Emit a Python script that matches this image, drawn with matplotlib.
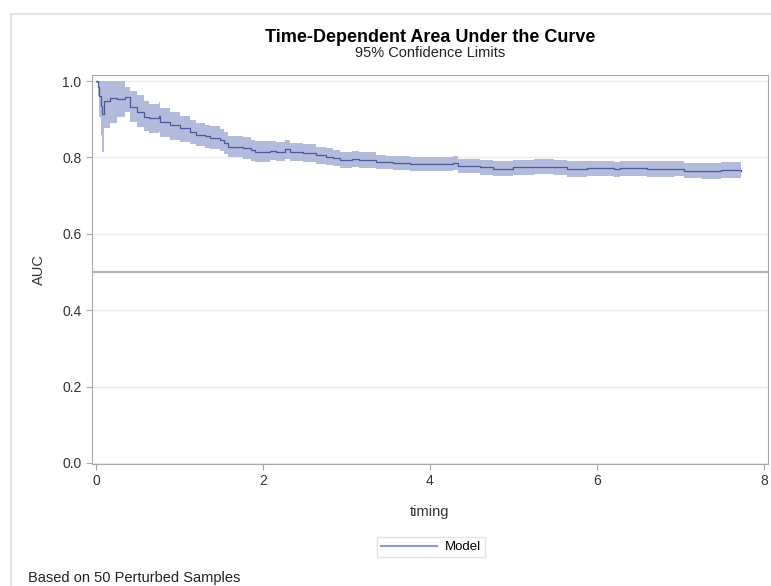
import matplotlib
matplotlib.use("Agg")
import matplotlib.pyplot as plt
from matplotlib.lines import Line2D
from matplotlib.patches import Rectangle

plt.rcParams["font.family"] = ["Liberation Sans", "DejaVu Sans"]

# time-dependent AUC with 95% limits (step function)
timing = [0.00, 0.02, 0.04, 0.06, 0.075, 0.09, 0.17, 0.25, 0.35, 0.41,
          0.49, 0.57, 0.63, 0.75, 0.77, 0.89, 1.00, 1.12, 1.20, 1.30,
          1.37, 1.49, 1.53, 1.58, 1.76, 1.86, 1.90, 2.08, 2.16, 2.26,
          2.32, 2.48, 2.64, 2.76, 2.84, 2.92, 3.07, 3.15, 3.35, 3.47,
          3.56, 3.76, 4.28, 4.34, 4.60, 4.76, 5.00, 5.24, 5.48, 5.64,
          5.88, 6.20, 6.28, 6.60, 6.92, 7.04, 7.24, 7.48, 7.72]
auc = [1.000, 0.985, 0.960, 0.935, 0.915, 0.948, 0.956, 0.953, 0.958, 0.933,
       0.920, 0.907, 0.904, 0.909, 0.894, 0.885, 0.876, 0.866, 0.860, 0.855,
       0.852, 0.846, 0.837, 0.828, 0.825, 0.819, 0.815, 0.818, 0.815, 0.821,
       0.815, 0.811, 0.806, 0.802, 0.798, 0.793, 0.797, 0.793, 0.789, 0.787,
       0.785, 0.782, 0.785, 0.777, 0.774, 0.771, 0.774, 0.776, 0.774, 0.770,
       0.772, 0.769, 0.772, 0.770, 0.771, 0.765, 0.764, 0.767, 0.765]
lower = [0.995, 0.960, 0.905, 0.860, 0.815, 0.877, 0.890, 0.905, 0.918, 0.894,
         0.880, 0.870, 0.864, 0.866, 0.854, 0.845, 0.840, 0.834, 0.829, 0.825,
         0.822, 0.817, 0.808, 0.800, 0.797, 0.792, 0.789, 0.793, 0.790, 0.797,
         0.792, 0.788, 0.784, 0.780, 0.777, 0.772, 0.776, 0.773, 0.771, 0.769,
         0.767, 0.764, 0.766, 0.758, 0.755, 0.751, 0.754, 0.756, 0.754, 0.750,
         0.752, 0.749, 0.752, 0.750, 0.751, 0.745, 0.744, 0.747, 0.745]
upper = [1.000, 1.000, 1.000, 1.000, 1.000, 1.000, 1.000, 1.000, 0.985, 0.975,
         0.963, 0.947, 0.940, 0.945, 0.930, 0.920, 0.908, 0.897, 0.891, 0.885,
         0.882, 0.875, 0.866, 0.856, 0.853, 0.846, 0.842, 0.844, 0.840, 0.845,
         0.838, 0.834, 0.828, 0.824, 0.820, 0.814, 0.818, 0.813, 0.807, 0.805,
         0.803, 0.800, 0.804, 0.797, 0.794, 0.791, 0.794, 0.796, 0.794, 0.790,
         0.792, 0.789, 0.792, 0.790, 0.791, 0.786, 0.785, 0.787, 0.786]

x_ticks = [0, 2, 4, 6, 8]
y_ticks = [0.0, 0.2, 0.4, 0.6, 0.8, 1.0]
ref_auc = 0.5

LINE_C = "#4a5a98"
BAND_C = "#b2bbdc"
FRAME_C = "#a8a8a8"

fig = plt.figure(figsize=(7.71, 5.86), dpi=100)
ax = fig.add_axes([92 / 771, 1 - 464 / 586, (768 - 92) / 771, (464 - 75) / 586])

ax.fill_between(timing, lower, upper, step="post", color=BAND_C, lw=0)
ax.plot(timing, auc, drawstyle="steps-post", color=LINE_C, lw=0.9)
ax.axhline(ref_auc, color="#b4b4b4", lw=1.5, zorder=1)

ax.set_xlim(-0.048, 8.048)
ax.set_ylim(-0.003, 1.016)
ax.set_xticks(x_ticks)
ax.set_yticks(y_ticks)
ax.set_yticklabels([f"{v:.1f}" for v in y_ticks])
ax.grid(axis="y", color="#ebebeb", lw=1)
ax.set_axisbelow(True)
for s in ax.spines.values():
    s.set_color(FRAME_C)
ax.tick_params(colors=FRAME_C, labelcolor="#333333", labelsize=10, length=4)
ax.set_xlabel("timing", fontsize=10.5, color="#333333", labelpad=12)
ax.set_ylabel("AUC", fontsize=10.5, color="#333333", labelpad=12)

fig.text(430 / 771, 1 - 38 / 586, "Time-Dependent Area Under the Curve",
         ha="center", va="center", fontsize=13, fontweight="bold")
fig.text(430 / 771, 1 - 53 / 586, "95% Confidence Limits",
         ha="center", va="center", fontsize=10.5, color="#222222")
fig.text(28 / 771, 1 - 578 / 586, "Based on 50 Perturbed Samples",
         ha="left", va="center", fontsize=10.5, color="#222222")

handle = Line2D([], [], color="#8f99c6", lw=1.5)
fig.legend([handle], ["Model"], loc="center", bbox_to_anchor=(431 / 771, 1 - 547 / 586),
           frameon=True, fontsize=9.5, edgecolor="#dddddd", fancybox=False,
           handlelength=4.2, borderpad=0.3, handletextpad=0.6)

# light outer border of the graph area
fig.add_artist(Rectangle((11 / 771, -0.1), 1.2, 1 - 14 / 586 + 0.1, transform=fig.transFigure,
                         fill=False, edgecolor="#e3e3e3", lw=1.5))

fig.savefig("out.png", dpi=100)
